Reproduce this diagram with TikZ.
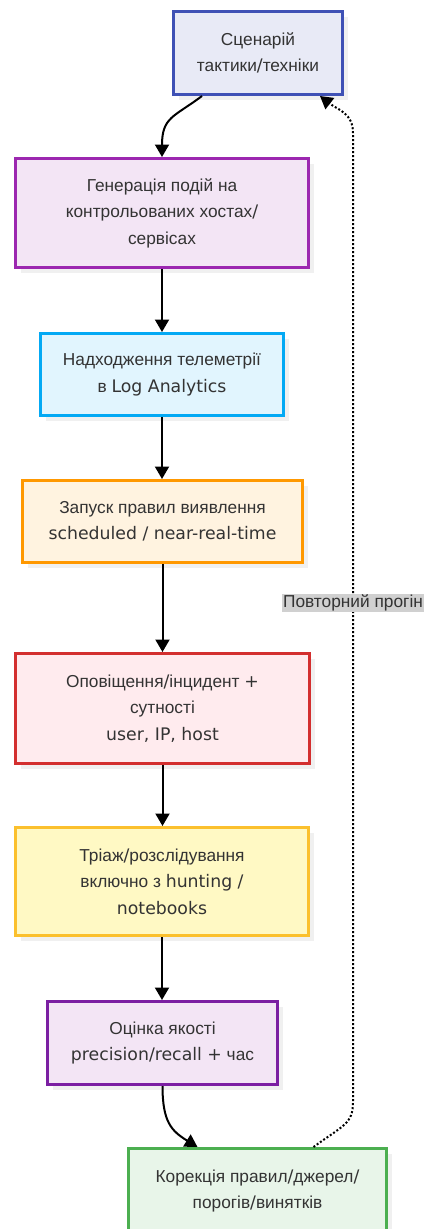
\documentclass[tikz,border=0pt]{standalone}
\usepackage{fontspec}
\setmainfont{Liberation Sans}
\newfontfamily\latf{DejaVu Sans}
\usetikzlibrary{arrows.meta,calc,shadows}

% Latin fragments are set in a wider sans
\newcommand\latn[1]{{\latf\fontsize{17.3}{26.5}\selectfont #1}}

\definecolor{txt}{HTML}{333333}
\definecolor{bdA}{HTML}{3F51B5}\definecolor{fiA}{HTML}{E8EAF6}
\definecolor{bdB}{HTML}{9C27B0}\definecolor{fiB}{HTML}{F3E5F5}
\definecolor{bdC}{HTML}{03A9F4}\definecolor{fiC}{HTML}{E1F5FE}
\definecolor{bdD}{HTML}{FF9800}\definecolor{fiD}{HTML}{FFF3E0}
\definecolor{bdE}{HTML}{D32F2F}\definecolor{fiE}{HTML}{FFEBEE}
\definecolor{bdF}{HTML}{FBC02D}\definecolor{fiF}{HTML}{FFF9C4}
\definecolor{bdG}{HTML}{7B1FA2}\definecolor{fiG}{HTML}{F3E5F5}
\definecolor{bdH}{HTML}{4CAF50}\definecolor{fiH}{HTML}{E8F5E9}
\definecolor{lblbg}{HTML}{D0D0D0}

\tikzset{
  box/.style={draw, line width=3pt, align=center, text=txt, inner sep=0pt,
    font=\fontsize{17.3}{26.5}\selectfont,
    drop shadow={shadow xshift=5pt, shadow yshift=-5pt, fill=black!6, opacity=1}},
  arr/.style={line width=2pt, draw=black, -{Triangle[length=12.5pt,width=14pt]}},
  loop/.style={line width=2pt, draw=black, dash pattern=on 2pt off 2pt,
    -{Triangle[length=12.5pt,width=14pt]}},
  lbl/.style={fill=lblbg, text=txt, inner xsep=1pt, inner ysep=0pt,
    minimum height=18pt, font=\fontsize{17.3}{20}\selectfont}
}

\begin{document}
\begin{tikzpicture}[x=1pt,y=-1pt]
\useasboundingbox[fill=white] (0,0) rectangle (427,1229);

\node[box, draw=bdA, fill=fiA, minimum width=169pt, minimum height=83pt] (b1) at (258,53)
  {Сценарій\\тактики\latn{/}техніки};
\node[box, draw=bdB, fill=fiB, minimum width=293pt, minimum height=109pt] (b2) at (162,213)
  {Генерація подій на\\контрольованих хостах\latn{/}\\сервісах};
\node[box, draw=bdC, fill=fiC, minimum width=243pt, minimum height=82pt] (b3) at (162,374.5)
  {Надходження телеметрії\\в \latn{Log Analytics}};
\node[box, draw=bdD, fill=fiD, minimum width=280pt, minimum height=82pt] (b4) at (162.5,521.5)
  {Запуск правил виявлення\\\latn{scheduled / near-real-time}};
\node[box, draw=bdE, fill=fiE, minimum width=294pt, minimum height=110pt] (b5) at (162.5,708.5)
  {Оповіщення\latn{/}інцидент \latn{+}\\сутності\\\latn{user, IP, host}};
\node[box, draw=bdF, fill=fiF, minimum width=293pt, minimum height=108pt] (b6) at (162,881.5)
  {Тріаж\latn{/}розслідування\\включно з \latn{hunting /}\\\latn{notebooks}};
\node[box, draw=bdG, fill=fiG, minimum width=230pt, minimum height=83pt] (b7) at (162.5,1043)
  {Оцінка якості\\\latn{precision/recall +} час};
\node[box, draw=bdH, fill=fiH, minimum width=258pt, minimum height=85pt] (b8) at (257.5,1191)
  {Корекція правил\latn{/}джерел\latn{/}\\порогів\latn{/}винятків};

% main flow
\draw[arr] ($(b1.south)+(-56,0)$) .. controls +(-28,21) and +(0,-40) .. (b2.north);
\draw[arr] (b2.south) -- (b2.south |- b3.north);
\draw[arr] (b3.south) -- (b3.south |- b4.north);
\draw[arr] (b4.south) -- (b4.south |- b5.north);
\draw[arr] (b5.south) -- (b5.south |- b6.north);
\draw[arr] (b6.south) -- (b6.south |- b7.north);
\draw[arr] (b7.south) .. controls +(0,36) and +(-26,-16) .. ($(b8.north)+(-60,0)$);

% feedback loop
\coordinate (loopbot) at (353,1102);
\coordinate (looptop) at (353,133);
\draw[loop] ($(b8.north)+(56,0)$) .. controls +(30,-22) and +(0,22) .. (loopbot)
  -- (looptop) .. controls +(0,-20) and +(18,14) .. ($(b1.south)+(62,0)$);
\node[lbl] (rerun) at (353,603) {Повторний прогін};
\end{tikzpicture}
\end{document}
